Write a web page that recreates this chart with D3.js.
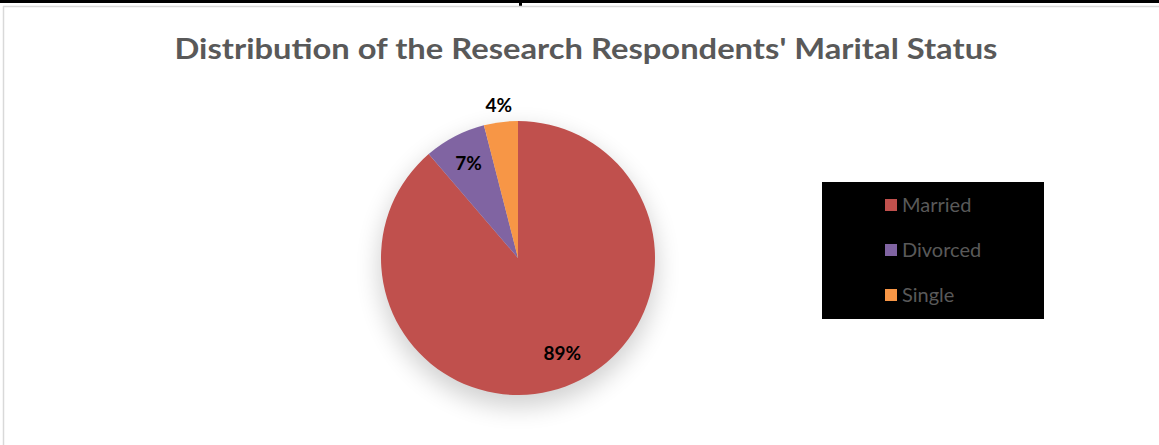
<!DOCTYPE html>
<html><head><meta charset="utf-8">
<script src="https://cdn.jsdelivr.net/npm/d3@7"></script>
<style>body{margin:0;background:#fff;} svg{display:block;}</style>
</head><body>
<svg id="c" width="1159" height="445"></svg>
<script>
const categories = ["Married", "Divorced", "Single"];
const values = [88.7, 7.3, 4.0];
const labels = ["89%", "7%", "4%"];
const colors = ["#C0504D", "#8064A2", "#F79646"];
const title = "Distribution of the Research Respondents' Marital Status";

const svg = d3.select("#c");
const font = "Lato, 'Open Sans', sans-serif";

// page frame
svg.append("rect").attr("x",0).attr("y",0).attr("width",1159).attr("height",3).attr("fill","#000");
svg.append("rect").attr("x",519).attr("y",3).attr("width",3).attr("height",3).attr("fill","#000");
svg.append("line").attr("x1",3.5).attr("x2",3.5).attr("y1",6).attr("y2",445).attr("stroke","#d9d9d9").attr("stroke-width",1.5);
svg.append("line").attr("x1",3).attr("x2",1159).attr("y1",6.5).attr("y2",6.5).attr("stroke","#d9d9d9").attr("stroke-width",1.5);

svg.append("text").attr("x",586).attr("y",59).attr("text-anchor","middle")
  .attr("font-family",font).attr("font-weight","bold").attr("font-size",28)
  .attr("fill","#595959").attr("textLength",823).attr("lengthAdjust","spacingAndGlyphs").text(title);

const cx = 518, cy = 258, r = 137;
const defs = svg.append("defs");
const f = defs.append("filter").attr("id","sh").attr("x","-50%").attr("y","-50%").attr("width","200%").attr("height","200%");
f.append("feGaussianBlur").attr("stdDeviation",12);

const g = svg.append("g").attr("transform",`translate(${cx},${cy})`);
g.append("circle").attr("cx",0).attr("cy",10).attr("r",r+2).attr("fill","#000").attr("opacity",0.18).attr("filter","url(#sh)");

const pie = d3.pie().sort(null).value(d=>d)(values);
const arc = d3.arc().innerRadius(0).outerRadius(r);
g.selectAll("path.s").data(pie).join("path").attr("class","s")
  .attr("d",arc).attr("fill",(d,i)=>colors[i]);

// labels
const labFrac = [0.74, 0.78, 1.12];
const labDx = [9, 0, 0];
pie.forEach((d,i)=>{
  const rr = r*labFrac[i];
  const p = d3.arc().innerRadius(rr).outerRadius(rr).centroid(d);
  g.append("text").attr("x",p[0]+labDx[i]).attr("y",p[1]).attr("dy","0.35em").attr("text-anchor","middle")
   .attr("font-family",font).attr("font-weight","bold").attr("font-size",19).attr("fill","#000").text(labels[i]);
});

// legend
const lg = svg.append("g");
lg.append("rect").attr("x",822).attr("y",182).attr("width",222).attr("height",137).attr("fill","#000");
const ly = d3.scalePoint().domain(categories).range([205,295]);
categories.forEach((c,i)=>{
  lg.append("rect").attr("x",885).attr("y",ly(c)-6).attr("width",12).attr("height",12).attr("fill",colors[i]);
  lg.append("text").attr("x",902).attr("y",ly(c)).attr("dy","0.35em").attr("font-family",font)
    .attr("font-size",20).attr("fill","#595959").text(c);
});
</script>
</body></html>
